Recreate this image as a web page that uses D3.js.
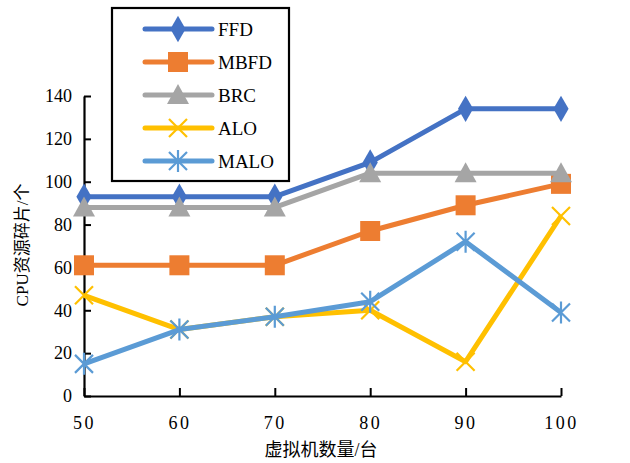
<!DOCTYPE html>
<html><head><meta charset="utf-8">
<script src="https://cdn.jsdelivr.net/npm/d3@7"></script>
<style>body{margin:0;background:#fff}</style>
</head><body>
<svg id="c" width="630" height="463"></svg>
<script>
const categories = [50, 60, 70, 80, 90, 100];
const yTicks = [0, 20, 40, 60, 80, 100, 120, 140];
const seriesNames = ["FFD", "MBFD", "BRC", "ALO", "MALO"];
const FFD  = [93, 93, 93, 109, 134, 134];
const MBFD = [61, 61, 61, 77, 89, 99];
const BRC  = [88, 88, 88, 104, 104, 104];
const ALO  = [47, 31, 37, 40, 16, 84];
const MALO = [15, 31, 37, 44, 72, 39];
const colors = ["#4472C4", "#ED7D31", "#A5A5A5", "#FFC000", "#5B9BD5"];
const markers = ["diamond", "square", "triangle", "x", "asterisk"];
const xTitle = "虚拟机数量/台";
const yTitle = "CPU资源碎片/个";

const series = [FFD, MBFD, BRC, ALO, MALO];
const svg = d3.select("#c");
const serif = "'Liberation Serif','Times New Roman',serif";
const cjk = "'Liberation Serif','Noto Sans CJK SC',serif";

const x = d3.scaleLinear().domain([50, 100]).range([84, 561]);
const y = d3.scaleLinear().domain([0, 140]).range([396, 96]);

// axes
const gx = svg.append("g").attr("transform", "translate(0,396)")
  .call(d3.axisBottom(x).tickValues(categories).tickSizeInner(-8).tickSizeOuter(0).tickPadding(20));
const gy = svg.append("g").attr("transform", "translate(84,0)")
  .call(d3.axisLeft(y).tickValues(yTicks).tickSizeInner(-7).tickSizeOuter(0).tickPadding(12));
[gx, gy].forEach(g => {
  g.select(".domain").attr("stroke", "#000").attr("stroke-width", 2.2);
  g.selectAll(".tick line").attr("stroke", "#000").attr("stroke-width", 2);
  g.selectAll("text").attr("font-family", serif).attr("font-size", 18).attr("fill", "#000");
});
gx.selectAll("text").attr("letter-spacing", 2.5);

function drawMarker(g, type, color) {
  if (type === "diamond") {
    g.append("path").attr("d", d3.symbol(d3.symbolDiamond, 200)()).attr("fill", color);
  } else if (type === "square") {
    g.append("rect").attr("x", -10).attr("y", -10).attr("width", 20).attr("height", 20).attr("fill", color);
  } else if (type === "triangle") {
    g.append("path").attr("d", "M0,-11 L11,9 L-11,9 Z").attr("fill", color);
  } else if (type === "x") {
    g.append("path").attr("d", "M-9,-9 L9,9 M-9,9 L9,-9").attr("stroke", color).attr("stroke-width", 2.2).attr("fill", "none");
  } else if (type === "asterisk") {
    g.append("path").attr("d", "M-9,-9 L9,9 M-9,9 L9,-9 M0,-11 L0,11").attr("stroke", color).attr("stroke-width", 2.2).attr("fill", "none");
  }
}

const line = d3.line().x((d, i) => x(categories[i])).y(d => y(d));
series.forEach((s, k) => {
  const g = svg.append("g");
  g.append("path").attr("d", line(s)).attr("fill", "none").attr("stroke", colors[k])
    .attr("stroke-width", 5).attr("stroke-linejoin", "round");
  s.forEach((v, i) => {
    const m = g.append("g").attr("transform", `translate(${x(categories[i])},${y(v)})`);
    drawMarker(m, markers[k], colors[k]);
  });
});

// legend
const lg = svg.append("g");
lg.append("rect").attr("x", 112).attr("y", 8).attr("width", 177).attr("height", 173)
  .attr("fill", "#fff").attr("stroke", "#000").attr("stroke-width", 2.2);
seriesNames.forEach((n, k) => {
  const yy = 29 + k * 33;
  lg.append("line").attr("x1", 145).attr("x2", 212).attr("y1", yy).attr("y2", yy)
    .attr("stroke", colors[k]).attr("stroke-width", 5).attr("stroke-linecap", "round");
  const m = lg.append("g").attr("transform", `translate(178,${yy})`);
  drawMarker(m, markers[k], colors[k]);
  lg.append("text").attr("x", 218).attr("y", yy).attr("dy", "0.35em")
    .attr("font-family", serif).attr("font-size", 19).attr("fill", "#000").text(n);
});

// titles
svg.append("text").attr("x", 321).attr("y", 450).attr("dy", "0.35em").attr("text-anchor", "middle")
  .attr("font-family", cjk).attr("font-size", 18).attr("fill", "#000").text(xTitle);
svg.append("text").attr("transform", "translate(22,245) rotate(-90)").attr("dy", "0.35em")
  .attr("text-anchor", "middle").attr("font-family", cjk).attr("font-size", 17).attr("fill", "#000").text(yTitle);
</script>
</body></html>
